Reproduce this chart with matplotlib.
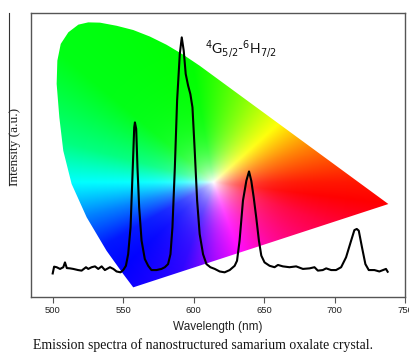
import numpy as np
import matplotlib
matplotlib.use("Agg")
import matplotlib.pyplot as plt
from matplotlib.patches import Polygon
from matplotlib.colors import hsv_to_rgb
from matplotlib.lines import Line2D

# ---- data ----
wavelength = [500.0, 501.0, 502.8, 505.2, 507.5, 508.7, 510.0, 512.3, 514.6, 518.0,
              520.5, 523.6, 525.2, 527.6, 530.0, 532.3, 534.7, 537.0, 540.6, 543.0,
              545.3, 548.1, 550.0, 551.9, 553.5, 555.2, 556.6, 557.8, 558.3, 559.2,
              560.1, 561.3, 563.0, 565.3, 567.7, 570.0, 573.6, 577.1, 579.5, 581.8,
              583.5, 584.9, 586.6, 588.2, 590.1, 591.5, 592.9, 594.3, 596.0, 597.6,
              599.1, 600.7, 602.4, 604.2, 606.6, 609.0, 611.8, 614.9, 618.4, 621.9,
              625.5, 629.0, 630.7, 632.5, 634.9, 637.3, 639.2, 640.8, 642.5, 644.3,
              646.2, 647.9, 650.2, 653.8, 657.3, 659.7, 663.2, 667.9, 672.6, 677.4,
              682.1, 685.6, 688.0, 691.5, 693.9, 697.4, 700.9, 704.5, 708.0, 711.6,
              713.9, 715.6, 717.0, 719.3, 721.7, 724.1, 728.1, 731.6, 736.3, 737.5]
intensity = [8.2, 10.6, 10.4, 9.8, 10.4, 12.1, 10.1, 10.0, 9.8, 9.4,
             9.2, 10.4, 9.8, 10.4, 10.7, 9.8, 10.7, 9.4, 10.4, 9.8,
             8.9, 8.6, 9.4, 10.9, 15.0, 24.5, 43.3, 59.8, 61.5, 59.2,
             45.6, 31.5, 19.8, 13.3, 10.9, 9.4, 9.4, 9.8, 10.4, 11.5,
             15.0, 24.5, 45.6, 69.2, 85.6, 91.5, 86.8, 78.6, 74.5, 71.5,
             66.8, 51.5, 33.9, 22.1, 15.0, 11.5, 10.4, 9.8, 8.9, 8.6,
             9.4, 10.9, 12.7, 19.8, 33.9, 40.9, 44.2, 40.9, 35.1, 28.0,
             19.8, 14.5, 12.1, 10.9, 10.4, 11.2, 10.7, 10.4, 10.7, 9.8,
             10.0, 10.4, 9.2, 9.4, 10.0, 9.4, 9.4, 10.4, 13.9, 19.8,
             23.5, 23.9, 23.3, 17.4, 11.5, 9.4, 9.4, 8.9, 9.8, 8.8]
xticks = [500, 550, 600, 650, 700, 750]
transition_label = r'$^{4}$G$_{5/2}$-$^{6}$H$_{7/2}$'
caption = "Emission spectra of nanostructured samarium oxalate crystal."

# outline of the chromaticity-diagram background (wavelength, intensity units)
outline_w = [557.1, 550.0, 538.2, 524.1, 513.4, 507.5, 504.7, 502.8, 503.3, 505.7,
             511.1, 518.2, 525.2, 533.5, 545.3, 557.1, 568.9, 580.7, 592.5, 604.2, 738.0]
outline_i = [3.3, 8.0, 16.2, 28.0, 39.8, 51.5, 63.3, 75.1, 83.3, 89.2,
             93.3, 96.0, 96.8, 96.7, 95.6, 94.1, 91.8, 88.9, 85.4, 81.5, 32.7]

# ---- figure ----
fig = plt.figure(figsize=(4.09, 3.52), dpi=100)
ax = fig.add_axes([30.7/409, 1-296.7/352, (405.3-30.7)/409, (296.7-13.3)/352])
ax.set_xlim(484.4, 750)
ax.set_ylim(0, 100)

# chromaticity-like colour background
gw = np.linspace(500, 740, 480)
gi = np.linspace(0, 100, 300)
W, I = np.meshgrid(gw, gi)
px_per_nm = 374.6/(750-484.4)
px_per_i = 283.4/100
wx, wy = 613.7, 40.4
dx = (W - wx)*px_per_nm
dy = (I - wy)*px_per_i
ang = np.degrees(np.arctan2(dy, dx)) % 360
a_bp = [0, 20, 42, 70, 100, 140, 165, 180, 195, 210, 250, 272, 290, 315, 340, 353, 360]
h_bp = [5, 30, 60, 90, 120, 125, 150, 180, 210, 235, 250, 280, 300, 325, 345, 360, 365]
hue = (np.interp(ang, a_bp, h_bp) % 360)/360.0
r = np.hypot(dx, dy)
sat = 1 - np.exp(-r/24.0)
val = np.ones_like(sat)
rgb = hsv_to_rgb(np.dstack([hue, sat, val]))
im = ax.imshow(rgb, origin='lower', extent=(500, 740, 0, 100), aspect='auto',
               interpolation='bilinear', zorder=1)
poly = Polygon(np.column_stack([outline_w, outline_i]), closed=True,
               transform=ax.transData, facecolor='none', edgecolor='none')
im.set_clip_path(poly)

ax.plot(wavelength, intensity, color='black', lw=1.5, zorder=3)

ax.text(607.8, 85.9, transition_label, fontsize=10, family='Lato',
        color='#111111', zorder=4)

for s in ax.spines.values():
    s.set_color('#555555')
    s.set_linewidth(1.0)
ax.set_yticks([])
ax.set_xticks(xticks)
ax.tick_params(axis='x', direction='out', length=4, width=0.8, color='#555555',
               labelsize=6.8, pad=3)
for lab in ax.get_xticklabels():
    lab.set_family('Liberation Sans')
    lab.set_color('#222222')
ax.set_xlabel('Wavelength (nm)', family='Liberation Sans', fontsize=8.5,
              labelpad=4, color='#222222')

fig.text(15/409, 1-147/352, 'Intensity (a.u.)', rotation=90, ha='center',
         va='center', family='Liberation Serif', fontsize=9.5, color='#222222')
fig.add_artist(Line2D([9.3/409, 9.3/409], [1-12.7/352, 1-185/352],
                      transform=fig.transFigure, color='#333333', lw=0.8))
fig.text(33/409, 1-345/352, caption, ha='left', va='center',
         family='Liberation Serif', fontsize=9.9, color='#111111')

fig.savefig('out.png', dpi=100)
